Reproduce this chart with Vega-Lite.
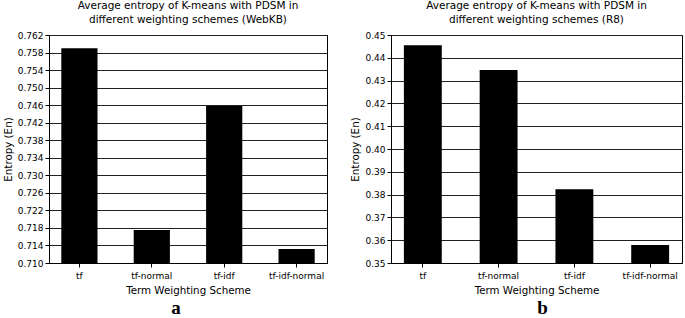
{
  "$schema": "https://vega.github.io/schema/vega-lite/v6.json",
  "background": "white",
  "padding": {"left": 2, "top": 0, "right": 0, "bottom": 0},
  "spacing": 22,
  "config": {
    "font": "DejaVu Sans",
    "view": {"stroke": "black", "strokeWidth": 1},
    "axis": {
      "domainColor": "black", "tickColor": "black", "gridColor": "#222", "gridWidth": 1,
      "labelColor": "black", "titleColor": "black", "labelFont": "DejaVu Sans", "titleFont": "DejaVu Sans",
      "labelFontSize": 9, "titleFontSize": 10.3, "titleFontWeight": "normal", "tickSize": 4
    },
    "title": {"font": "DejaVu Sans", "fontSize": 10.5, "fontWeight": "normal", "color": "black"}
  },
  "datasets": {
    "webkb": [
      {"scheme": "tf", "entropy": 0.7590},
      {"scheme": "tf-normal", "entropy": 0.7175},
      {"scheme": "tf-idf", "entropy": 0.7458},
      {"scheme": "tf-idf-normal", "entropy": 0.7132}
    ],
    "r8": [
      {"scheme": "tf", "entropy": 0.4455},
      {"scheme": "tf-normal", "entropy": 0.4347},
      {"scheme": "tf-idf", "entropy": 0.3823},
      {"scheme": "tf-idf-normal", "entropy": 0.3579}
    ]
  },
  "hconcat": [
    {
      "title": {"text": "a", "orient": "bottom", "anchor": "middle", "baseline": "alphabetic", "font": "Liberation Serif", "fontSize": 19, "fontWeight": "bold", "offset": 18, "dx": 11},
      "vconcat": [
        {
          "title": {"text": ["Average entropy of K-means with PDSM in", "different weighting schemes (WebKB)"], "offset": 6, "lineHeight": 14},
          "data": {"name": "webkb"},
          "width": 278,
          "height": 228,
          "mark": {"type": "bar", "color": "black", "clip": true},
          "encoding": {
            "x": {"field": "scheme", "type": "nominal", "sort": null,
                  "scale": {"paddingInner": 0.5, "paddingOuter": 0.17},
                  "axis": {"title": "Term Weighting Scheme", "labelAngle": 0, "titlePadding": 5, "labelPadding": 4}},
            "y": {"field": "entropy", "type": "quantitative",
                  "scale": {"domain": [0.710, 0.762], "zero": false, "nice": false},
                  "axis": {"title": "Entropy (En)", "values": [0.710,0.714,0.718,0.722,0.726,0.730,0.734,0.738,0.742,0.746,0.750,0.754,0.758,0.762], "format": ".3f", "titlePadding": 4}}
          }
        }
      ]
    },
    {
      "title": {"text": "b", "orient": "bottom", "anchor": "middle", "baseline": "alphabetic", "font": "Liberation Serif", "fontSize": 19, "fontWeight": "bold", "offset": 18, "dx": 26},
      "vconcat": [
        {
          "title": {"text": ["Average entropy of K-means with PDSM in", "different weighting schemes (R8)"], "offset": 6, "lineHeight": 14},
          "data": {"name": "r8"},
          "width": 291,
          "height": 228,
          "mark": {"type": "bar", "color": "black", "clip": true},
          "encoding": {
            "x": {"field": "scheme", "type": "nominal", "sort": null,
                  "scale": {"paddingInner": 0.5, "paddingOuter": 0.17},
                  "axis": {"title": "Term Weighting Scheme", "labelAngle": 0, "titlePadding": 5, "labelPadding": 4}},
            "y": {"field": "entropy", "type": "quantitative",
                  "scale": {"domain": [0.35, 0.45], "zero": false, "nice": false},
                  "axis": {"title": "Entropy (En)", "values": [0.35,0.36,0.37,0.38,0.39,0.40,0.41,0.42,0.43,0.44,0.45], "format": ".2f", "titlePadding": 4}}
          }
        }
      ]
    }
  ]
}
